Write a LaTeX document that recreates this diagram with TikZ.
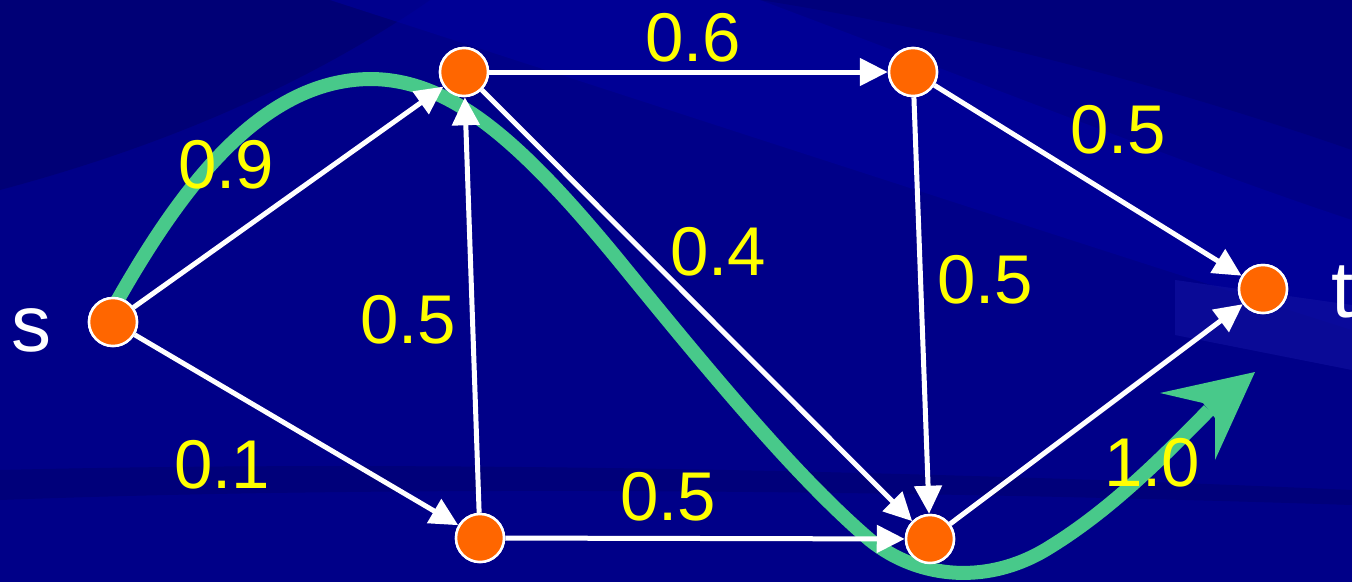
\documentclass[tikz,border=0pt]{standalone}
\usepackage{fontspec}
\setmainfont{Liberation Sans}
\usetikzlibrary{arrows.meta}
\definecolor{bgblue}{RGB}{0,0,136}
\definecolor{bgdark}{RGB}{0,0,105}
\definecolor{bglight}{RGB}{0,0,160}
\definecolor{bgpatch}{RGB}{18,18,160}
\definecolor{vorange}{RGB}{255,102,0}
\definecolor{pgreen}{RGB}{72,201,138}
\definecolor{lyellow}{RGB}{255,255,0}
\begin{document}
\begin{tikzpicture}[x=1pt,y=-1pt,
  vertex/.style={circle,fill=vorange,draw=white,line width=2.5pt,minimum size=48pt,inner sep=0pt},
  edge/.style={draw=white,line width=5pt,-{Triangle[length=28pt,width=27pt]}},
  wlabel/.style={text=lyellow,font=\fontsize{69}{80}\selectfont,inner sep=0pt},
  endlabel/.style={text=white,font=\fontsize{80}{90}\selectfont,inner sep=0pt},
  flow/.style={draw=pgreen,line width=14pt}]
% background
\useasboundingbox (0,0) rectangle (1352,582);
\fill[bgblue] (0,0) rectangle (1352,582);
\fill[bgdark,opacity=0.55] (0,0) -- (430,0) .. controls (300,90) and (150,150) .. (0,190) -- cycle;
\fill[bglight,opacity=0.55] (330,0) -- (760,0) .. controls (1000,90) and (1200,170) .. (1352,220)
  -- (1352,330) .. controls (1100,250) and (700,120) .. (330,0) -- cycle;
\fill[bgdark,opacity=0.4] (760,0) -- (1352,0) -- (1352,150) .. controls (1150,80) and (950,30) .. (760,0) -- cycle;
\fill[bgpatch,opacity=0.6] (1175,280) -- (1352,305) -- (1352,370) -- (1175,335) -- cycle;
\fill[bgdark,opacity=0.45] (0,470) .. controls (400,460) and (900,470) .. (1352,490) -- (1352,505) .. controls (900,490) and (400,485) .. (0,500) -- cycle;
% vertices
\node[vertex] (s) at (113,322) {};
\node[vertex] (a) at (464,72) {};
\node[vertex] (b) at (913,72) {};
\node[vertex] (c) at (480,538) {};
\node[vertex] (d) at (930,539) {};
\node[vertex] (t) at (1263,289) {};
% flow path
\draw[flow] (116,303) .. controls (180,190) and (260,80) .. (370,79)
  .. controls (450,79) and (520,140) .. (620,262)
  .. controls (720,385) and (800,480) .. (870,540)
  .. controls (920,580) and (990,585) .. (1050,547)
  .. controls (1110,510) and (1160,460) .. (1209,410);
\fill[pgreen] (1255,372) -- (1160,393) -- (1203,403) -- (1215,418) -- (1215,460) -- cycle;
% edges
\draw[edge] (s) -- (a);
\draw[edge] (s) -- (c);
\draw[edge] (c) -- (a);
\draw[edge] (a) -- (b);
\draw[edge] (a) -- (d);
\draw[edge] (b) -- (d);
\draw[edge] (b) -- (t);
\draw[edge] (c) -- (d);
\draw[edge] (d) -- (t);
% redraw vertices on top
\foreach \p in {{113,322},{464,72},{913,72},{480,538},{930,539},{1263,289}}
  \node[vertex] at (\p) {};
% labels
\node[wlabel] (l1) at (226,165) {0.9};
\node[wlabel] (l2) at (222,465) {0.1};
\node[wlabel] (l3) at (408,320) {0.5};
\node[wlabel] (l4) at (693,38) {0.6};
\node[wlabel] (l5) at (718,252) {0.4};
\node[wlabel] (l6) at (668,497) {0.5};
\node[wlabel] (l7) at (985,280) {0.5};
\node[wlabel] (l8) at (1118,130) {0.5};
\node[wlabel] (l9) at (1152,463) {1.0};
\node[endlabel,anchor=base west] (ls) at (11,351) {s};
\node[endlabel,anchor=base west] (lt) at (1331,317) {t};
\end{tikzpicture}
\end{document}
